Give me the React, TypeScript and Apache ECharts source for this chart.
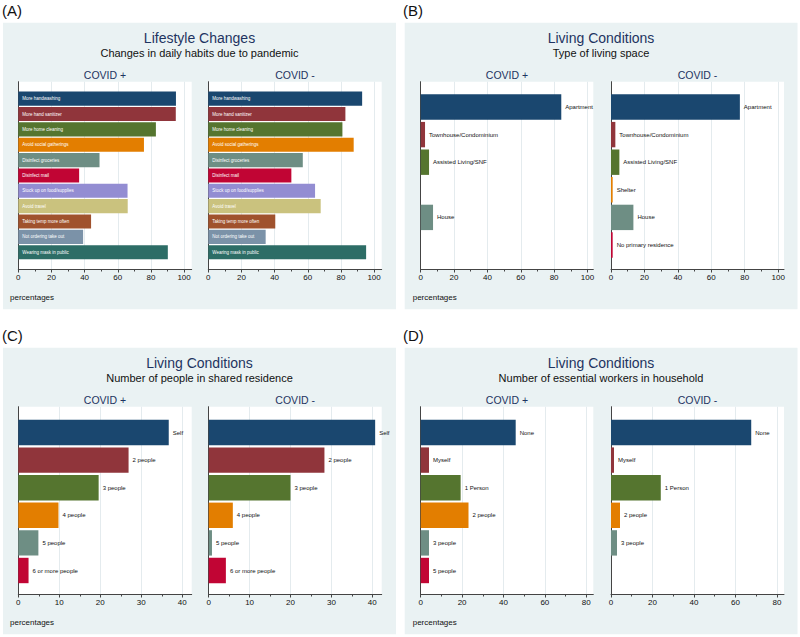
import React, { useEffect, useRef } from "react";
import * as echarts from "echarts";

const COLORS = [
  "#1a476f", "#90353b", "#55752f", "#e37e00", "#6e8e84", "#c10534",
  "#938dd2", "#cac27e", "#a0522d", "#7b92a8", "#2d6d66",
];

const lifestyleCategories = [
  "More handwashing", "More hand sanitizer", "More home cleaning", "Avoid social gatherings",
  "Disinfect groceries", "Disinfect mail", "Stock up on food/supplies", "Avoid travel",
  "Taking temp more often", "Not ordering take out", "Wearing mask in public",
];
const lifestyleCovidPos = [95.1, 95.0, 83.0, 75.8, 49.0, 36.7, 65.9, 66.0, 43.9, 39.1, 90.2];
const lifestyleCovidNeg = [92.8, 82.7, 80.9, 87.7, 57.0, 50.1, 64.4, 67.8, 40.4, 34.6, 95.2];

const livingCategories = [
  "Apartment", "Townhouse/Condominium", "Assisted Living/SNF", "Shelter", "House", "No primary residence",
];
const livingCovidPos: (number | null)[] = [84.3, 2.6, 5.0, null, 7.4, null];
const livingCovidNeg: (number | null)[] = [77.1, 2.6, 5.0, 1.0, 13.4, 1.0];

const sharedCategories = ["Self", "2 people", "3 people", "4 people", "5 people", "6 or more people"];
const sharedCovidPos = [36.7, 26.9, 19.6, 9.8, 4.9, 2.5];
const sharedCovidNeg = [40.7, 28.3, 20.0, 5.9, 0.8, 4.2];

const workersCategories = ["None", "Myself", "1 Person", "2 people", "3 people", "5 people"];
const workersCovidPos: (number | null)[] = [45.9, 4.0, 19.3, 23.1, 4.0, 4.0];
const workersCovidNeg: (number | null)[] = [67.6, 1.45, 24.0, 4.35, 2.9, null];

const ticks100 = [0, 20, 40, 60, 80, 100];
const minor100 = [10, 30, 50, 70, 90];
const ticks40 = [0, 10, 20, 30, 40];
const minor40 = [5, 15, 25, 35];
const ticks80 = [0, 20, 40, 60, 80];
const minor80 = [10, 30, 50, 70];

const panelLetters = ["(A)", "(B)", "(C)", "(D)"];
const panelTitles = ["Lifestyle Changes", "Living Conditions", "Living Conditions", "Living Conditions"];
const panelSubtitles = [
  "Changes in daily habits due to pandemic",
  "Type of living space",
  "Number of people in shared residence",
  "Number of essential workers in household",
];
const groupLabels = ["COVID +", "COVID -"];
const xAxisTitle = "percentages";

const FONT = "'Liberation Sans', Arial, Helvetica, sans-serif";
const NAVY = "#1e3461";
const PANEL_BG = "#eaf2f3";
const AXIS = "#444";
const GRID = "#e4ebee";

export default function App() {
  const ref = useRef<HTMLDivElement>(null);

  useEffect(() => {
    if (!ref.current) return;
    const chart = echarts.init(ref.current, undefined, { renderer: "svg" });

    const topA = 0;
    const topC = 325;
    const subplots = [
      { cats: lifestyleCategories, vals: lifestyleCovidPos, left: 18.3, right: 191.7, dy: topA, barsTop: 91.0, barsBottom: 259.9, max: 104.6, ticks: ticks100, minor: minor100, inside: true },
      { cats: lifestyleCategories, vals: lifestyleCovidNeg, left: 208.3, right: 381.7, dy: topA, barsTop: 91.0, barsBottom: 259.9, max: 104.6, ticks: ticks100, minor: minor100, inside: true },
      { cats: livingCategories, vals: livingCovidPos, left: 420.7, right: 593.3, dy: topA, barsTop: 93.2, barsBottom: 258.8, max: 103.5, ticks: ticks100, minor: minor100, inside: false },
      { cats: livingCategories, vals: livingCovidNeg, left: 611, right: 784, dy: topA, barsTop: 93.2, barsBottom: 258.8, max: 103.5, ticks: ticks100, minor: minor100, inside: false },
      { cats: sharedCategories, vals: sharedCovidPos, left: 18.3, right: 191.7, dy: topC, barsTop: 93.7, barsBottom: 259.3, max: 42.3, ticks: ticks40, minor: minor40, inside: false },
      { cats: sharedCategories, vals: sharedCovidNeg, left: 208.7, right: 381.7, dy: topC, barsTop: 93.7, barsBottom: 259.3, max: 42.3, ticks: ticks40, minor: minor40, inside: false },
      { cats: workersCategories, vals: workersCovidPos, left: 420.7, right: 593.3, dy: topC, barsTop: 93.7, barsBottom: 259.3, max: 83.4, ticks: ticks80, minor: minor80, inside: false },
      { cats: workersCategories, vals: workersCovidNeg, left: 611, right: 784, dy: topC, barsTop: 93.7, barsBottom: 259.3, max: 83.4, ticks: ticks80, minor: minor80, inside: false },
    ];

    const frameTop = 81.7;
    const frameBottom = 269.5;

    const grid: any[] = [];
    const xAxis: any[] = [];
    const yAxis: any[] = [];
    const series: any[] = [];

    subplots.forEach((sp, i) => {
      const fIdx = i * 2;
      const bIdx = i * 2 + 1;
      grid.push({
        left: sp.left, top: frameTop + sp.dy, width: sp.right - sp.left, height: frameBottom - frameTop,
        show: true, backgroundColor: "#ffffff", borderWidth: 0, containLabel: false,
      });
      grid.push({
        left: sp.left, top: sp.barsTop + sp.dy, width: sp.right - sp.left, height: sp.barsBottom - sp.barsTop,
        show: false, containLabel: false,
      });
      xAxis.push({
        gridIndex: fIdx, type: "value", min: 0, max: sp.max, position: "bottom",
        axisLine: { show: true, onZero: false, lineStyle: { color: AXIS, width: 1 } },
        axisTick: { show: true, customValues: sp.ticks, length: 3, lineStyle: { color: AXIS, width: 1 } },
        axisLabel: { show: true, customValues: sp.ticks, fontSize: 8, color: "#111", margin: 4, fontFamily: FONT },
        splitLine: { show: true, lineStyle: { color: GRID, width: 1 } },
      });
      xAxis.push({
        gridIndex: bIdx, type: "value", min: 0, max: sp.max, position: "bottom",
        offset: frameBottom - sp.barsBottom,
        axisLine: { show: false },
        axisTick: { show: true, customValues: sp.minor, length: 2, lineStyle: { color: AXIS, width: 1 } },
        axisLabel: { show: false },
        splitLine: { show: false },
      });
      yAxis.push({
        gridIndex: fIdx, type: "value", min: 0, max: 1,
        axisLine: { show: true, onZero: false, lineStyle: { color: AXIS, width: 1 } },
        axisTick: { show: false }, axisLabel: { show: false }, splitLine: { show: false },
      });
      yAxis.push({
        gridIndex: bIdx, type: "category", inverse: true, data: sp.cats, show: false,
      });
      series.push({
        type: "bar",
        xAxisIndex: bIdx,
        yAxisIndex: bIdx,
        barCategoryGap: "8%",
        data: sp.vals.map((v, k) =>
          v == null ? "-" : { value: v, itemStyle: { color: COLORS[k % COLORS.length] } }
        ),
        label: sp.inside
          ? { show: true, position: "insideLeft", distance: 4, formatter: "{b}", color: "#ffffff", fontSize: 4.5, fontFamily: FONT }
          : { show: true, position: "right", distance: 4, formatter: "{b}", color: "#111", fontSize: 6, fontFamily: FONT },
      });
    });

    const panels = [
      { x: 3, y: 22.7, w: 393, h: 286.6, lx: 2, ly: 10, cx: 199.5, plots: [0, 1], px: 10 },
      { x: 404.7, y: 22.7, w: 392.8, h: 286.6, lx: 403, ly: 10, cx: 601, plots: [2, 3], px: 412.7 },
      { x: 3, y: 347.7, w: 393, h: 286.6, lx: 2, ly: 335, cx: 199.5, plots: [4, 5], px: 10 },
      { x: 404.7, y: 347.7, w: 392.8, h: 286.6, lx: 403, ly: 335, cx: 601, plots: [6, 7], px: 412.7 },
    ];

    const graphic: any[] = [];
    panels.forEach((p, i) => {
      graphic.push({ type: "rect", z: -100, silent: true, shape: { x: p.x, y: p.y, width: p.w, height: p.h }, style: { fill: PANEL_BG } });
      graphic.push({ type: "text", z: 100, x: p.lx, y: p.ly, style: { text: panelLetters[i], fontSize: 15, fontFamily: FONT, fill: "#111", align: "left", verticalAlign: "middle" } });
      graphic.push({ type: "text", z: 100, x: p.cx, y: p.y + 15, style: { text: panelTitles[i], fontSize: 14, fontFamily: FONT, fill: NAVY, align: "center", verticalAlign: "middle" } });
      graphic.push({ type: "text", z: 100, x: p.cx, y: p.y + 30.6, style: { text: panelSubtitles[i], fontSize: 11, fontFamily: FONT, fill: "#111", align: "center", verticalAlign: "middle" } });
      p.plots.forEach((si, g) => {
        const sp = subplots[si];
        graphic.push({ type: "text", z: 100, x: (sp.left + sp.right) / 2, y: p.y + 52.3, style: { text: groupLabels[g], fontSize: 10.5, fontFamily: FONT, fill: NAVY, align: "center", verticalAlign: "middle" } });
      });
      graphic.push({ type: "text", z: 100, x: p.px, y: p.y + 274.3, style: { text: xAxisTitle, fontSize: 8, fontFamily: FONT, fill: "#111", align: "left", verticalAlign: "middle" } });
    });

    chart.setOption({
      animation: false,
      backgroundColor: "#ffffff",
      textStyle: { fontFamily: FONT },
      grid, xAxis, yAxis, series, graphic,
    });

    return () => chart.dispose();
  }, []);

  return <div ref={ref} style={{ position: "absolute", left: 0, top: 0, width: 800, height: 637 }} />;
}
